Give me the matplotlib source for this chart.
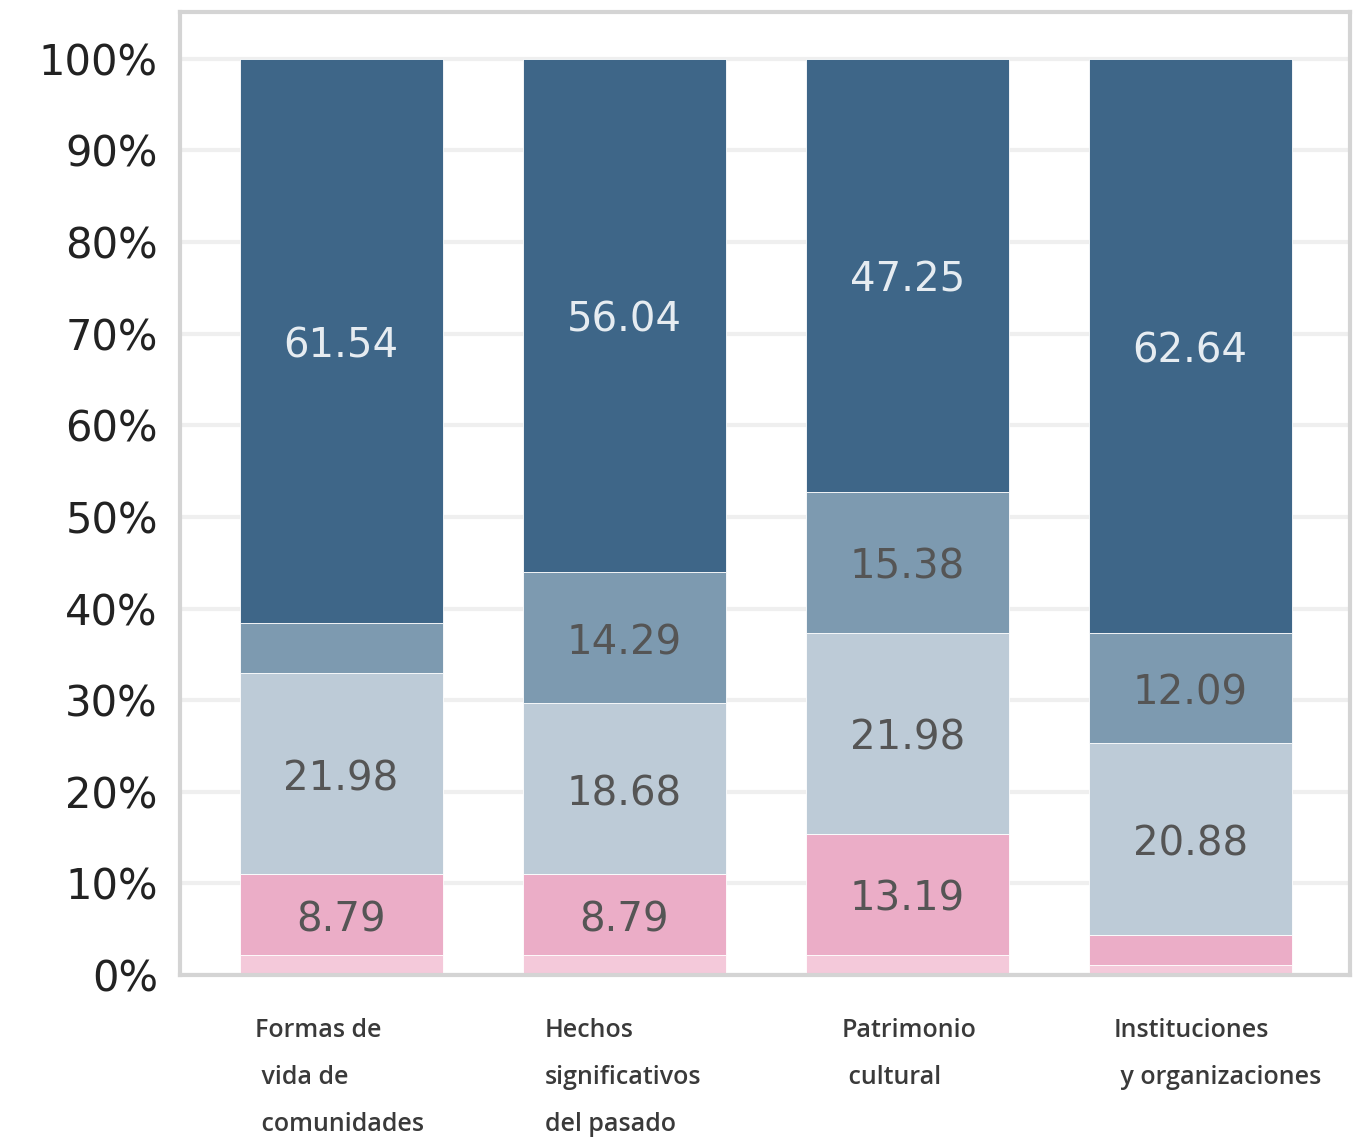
import matplotlib.pyplot as plt
import numpy as np
from matplotlib.ticker import PercentFormatter

plt.rcParams["font.family"] = ["DejaVu Sans"]

# categories (bottom to top stacking order of the segments)
categories = ["Formas de\n vida de\n comunidades",
              "Hechos\nsignificativos\ndel pasado",
              "Patrimonio\n cultural",
              "Instituciones\n y organizaciones"]
seg_a = [2.20, 2.20, 2.20, 1.10]       # lightest pink, bottom
seg_b = [8.79, 8.79, 13.19, 3.30]      # pink
seg_c = [21.98, 18.68, 21.98, 20.88]   # light grey-blue
seg_d = [5.49, 14.29, 15.38, 12.09]    # mid grey-blue
seg_e = [61.54, 56.04, 47.25, 62.64]   # dark blue, top

series = [seg_a, seg_b, seg_c, seg_d, seg_e]
colors = ["#f4c9da", "#ebadc7", "#bdcbd7", "#7d9ab0", "#3e6688"]
text_colors = [None, "#555555", "#555555", "#555555", "#e6ecf1"]
min_label = 8.0  # small segments are not labelled

fig = plt.figure(figsize=(13.61, 11.40), dpi=100)
ax = fig.add_axes([0.1323, 0.1447, 0.8597, 0.8448])

x = np.arange(len(categories))
width = 0.717
bottom = np.zeros(len(categories))
for vals, col, tcol in zip(series, colors, text_colors):
    vals = np.array(vals)
    ax.bar(x, vals, width, bottom=bottom, color=col, edgecolor="white",
           linewidth=0.6, zorder=2)
    for xi, b, v in zip(x, bottom, vals):
        if v >= min_label and tcol:
            ax.text(xi, b + v / 2 - 0.6, f"{v:.2f}", ha="center", va="center",
                    fontsize=29, color=tcol, zorder=3)
    bottom += vals

ax.set_xlim(-0.569, 3.565)
ax.set_ylim(0, 105.1)
ax.set_yticks(np.arange(0, 101, 10))
ax.yaxis.set_major_formatter(PercentFormatter(decimals=0))
ax.tick_params(axis="y", length=0, pad=16, labelsize=30, labelcolor="#222222")
ax.set_xticks([])
ax.grid(axis="y", color="#efefef", linewidth=3, zorder=0)
ax.set_axisbelow(True)
for s in ax.spines.values():
    s.set_color("#d4d4d4")
    s.set_linewidth(3)

# category labels under the bars
offsets = [0.053, 0.078, 0.127, 0.088]
for xi, lab, off in zip(x, categories, offsets):
    ax.text(xi - width / 2 + off, -4.7, lab, ha="left", va="top",
            fontsize=18, family="Open Sans", weight="semibold",
            color="#3a3a3a", linespacing=2.15)

fig.savefig("out.png", dpi=100)
